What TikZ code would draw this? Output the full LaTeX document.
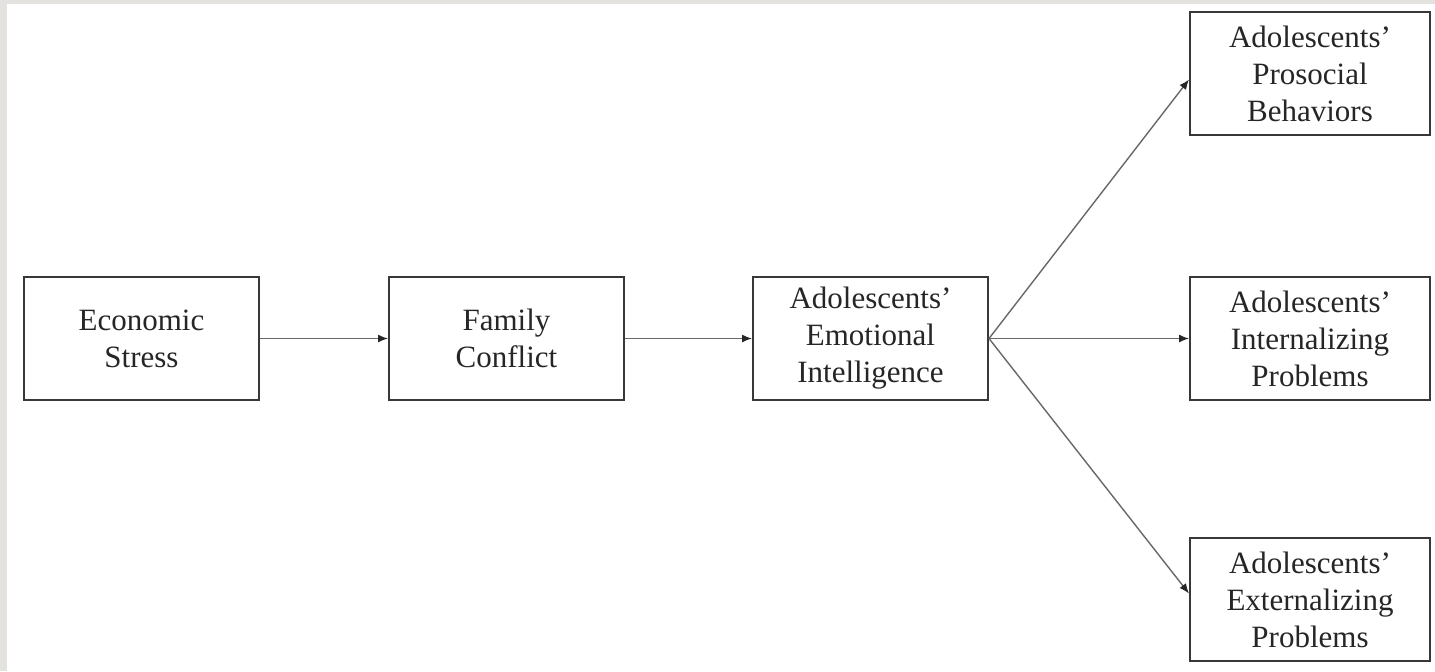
\documentclass[tikz,border=0pt]{standalone}
\usepackage{fontspec}
\setmainfont{Liberation Serif}
\usetikzlibrary{arrows.meta,positioning}
\definecolor{framegray}{HTML}{E4E2DF}
\definecolor{boxline}{HTML}{383838}
\definecolor{arrowline}{HTML}{686868}
\definecolor{inktext}{HTML}{262626}
\tikzset{
  pathbox/.style={
    draw=boxline,
    line width=1pt,
    fill=white,
    minimum width=117.5pt,
    minimum height=61.5pt,
    inner sep=2pt,
    align=center,
    text=inktext,
    font=\fontsize{15.5}{18.5}\selectfont
  },
  outbox/.style={pathbox,minimum width=120pt},
  patharrow/.style={-{Latex[length=5pt,width=4pt,color=black!85]},line width=0.7pt,draw=arrowline}
}
\begin{document}
\begin{tikzpicture}[node distance=64pt]
% page frame
\fill[framegray] (0,0) rectangle (717.5pt,-335.5pt);
\fill[white] (3.5pt,-2pt) rectangle (717.5pt,-335.5pt);
\useasboundingbox (0,0) rectangle (717.5pt,-335.5pt);
% mediators
\node[pathbox] (econ) at (70.75pt,-169.25pt) {Economic\\Stress};
\node[pathbox,right=of econ] (conflict) {Family\\Conflict};
\node[pathbox,right=63.5pt of conflict] (emotion) {Adolescents'\\Emotional\\Intelligence};
% outcomes
\node[outbox,right=100pt of emotion] (internal) {Adolescents'\\Internalizing\\Problems};
\node[outbox,above=70pt of internal] (prosocial) {Adolescents'\\Prosocial\\Behaviors};
\node[outbox,below=68pt of internal] (external) {Adolescents'\\Externalizing\\Problems};
\draw[patharrow] (econ) -- (conflict);
\draw[patharrow] (conflict) -- (emotion);
\draw[patharrow] (emotion.east) -- ([yshift=-3pt]prosocial.west);
\draw[patharrow] (emotion.east) -- (internal.west);
\draw[patharrow] (emotion.east) -- ([yshift=3pt]external.west);
\end{tikzpicture}
\end{document}
